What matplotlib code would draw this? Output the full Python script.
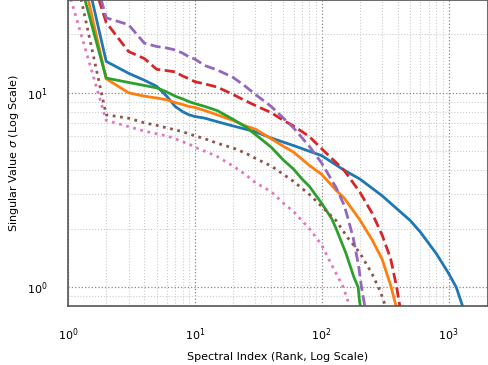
import numpy as np
import matplotlib
matplotlib.use("Agg")
import matplotlib.pyplot as plt

# spectral index (rank) and singular values
k_blue = [1, 2, 3, 4, 5, 6, 7, 8, 9, 10, 12, 15, 20, 25, 30, 40, 60, 80, 100,
          150, 200, 300, 400, 500, 600, 800, 1000, 1150, 1290, 1350]
s_blue = [104, 14.5, 12.6, 11.6, 10.8, 9.6, 8.5, 8.0, 7.7, 7.55, 7.4, 7.1, 6.75, 6.5, 6.3,
          5.85, 5.35, 5.0, 4.75, 4.0, 3.6, 2.95, 2.5, 2.2, 1.92, 1.49, 1.18, 1.0, 0.8, 0.72]

k_orange = [1, 2, 3, 4, 5, 6, 7, 8, 9, 10, 12, 15, 20, 25, 30, 40, 50, 60, 80, 100,
            130, 150, 200, 250, 300, 350, 380, 400]
s_orange = [87, 11.8, 10.0, 9.6, 9.4, 9.2, 8.9, 8.7, 8.5, 8.4, 8.1, 7.7, 7.2, 6.75, 6.5,
            5.8, 5.3, 4.95, 4.23, 3.8, 3.15, 2.88, 2.22, 1.75, 1.39, 1.02, 0.83, 0.74]

k_green = [1, 2, 3, 4, 5, 6, 7, 8, 9, 10, 12, 15, 20, 25, 30, 40, 50, 60, 70, 80,
           100, 120, 130, 155, 180, 194, 199, 210]
s_green = [63, 11.9, 11.3, 10.9, 10.6, 10.1, 9.6, 9.3, 9.0, 8.8, 8.5, 8.1, 7.3, 6.7, 6.1,
           5.25, 4.5, 4.05, 3.6, 3.3, 2.7, 2.25, 2.0, 1.5, 1.12, 1.0, 0.84, 0.7]

k_red = [1, 2, 3, 4, 5, 6, 7, 8, 9, 10, 12, 15, 20, 25, 30, 40, 50, 60, 80, 100,
         150, 200, 250, 300, 350, 390, 412, 440]
s_red = [95, 23, 16.3, 15.0, 13.2, 13.0, 12.8, 12.2, 11.8, 11.4, 11.1, 10.7, 9.8, 9.1, 8.6,
         7.9, 7.2, 6.75, 5.95, 5.15, 4.0, 3.08, 2.4, 1.85, 1.4, 1.0, 0.81, 0.7]

k_purple = [1, 2, 3, 4, 5, 6, 7, 8, 9, 10, 12, 15, 20, 25, 30, 40, 50, 60, 80, 100,
            130, 150, 160, 177, 195, 206, 218, 228]
s_purple = [127, 24.3, 22.4, 18.0, 17.3, 17.0, 16.6, 16.0, 15.3, 14.9, 13.8, 13.1, 12.0,
            10.8, 9.8, 8.5, 7.4, 6.6, 5.3, 4.35, 3.25, 2.65, 2.3, 1.8, 1.3, 1.0, 0.81, 0.7]

k_brown = [1, 2, 3, 4, 5, 6, 7, 8, 9, 10, 12, 15, 20, 25, 30, 40, 50, 60, 80, 100,
           130, 160, 200, 250, 290, 312, 330]
s_brown = [62, 7.7, 7.4, 7.0, 6.8, 6.6, 6.45, 6.3, 6.15, 6.0, 5.8, 5.5, 5.2, 4.9, 4.6,
           4.2, 3.8, 3.5, 3.0, 2.6, 2.2, 1.8, 1.5, 1.17, 0.95, 0.83, 0.75]

k_pink = [1, 2, 3, 4, 5, 6, 7, 8, 9, 10, 12, 15, 20, 25, 30, 40, 50, 60, 80, 100,
          120, 148, 165, 175]
s_pink = [34, 7.2, 6.7, 6.35, 6.15, 6.0, 5.8, 5.6, 5.45, 5.25, 5.0, 4.7, 4.2, 3.8, 3.45,
          3.1, 2.7, 2.45, 2.0, 1.65, 1.3, 1.0, 0.81, 0.7]

fig = plt.figure(figsize=(4.89, 3.65), dpi=100)
ax = fig.add_axes([68 / 489, 59 / 365, 420 / 489, 306 / 365])

ax.plot(k_blue, s_blue, color="tab:blue", lw=2)
ax.plot(k_orange, s_orange, color="tab:orange", lw=2)
ax.plot(k_green, s_green, color="tab:green", lw=2)
ax.plot(k_red, s_red, color="tab:red", lw=2, ls="--")
ax.plot(k_purple, s_purple, color="tab:purple", lw=2, ls="--")
ax.plot(k_brown, s_brown, color="tab:brown", lw=2, ls=":")
ax.plot(k_pink, s_pink, color="tab:pink", lw=2, ls=":")

ax.set_xscale("log")
ax.set_yscale("log")
ax.set_xlim(1, 2048)
ax.set_ylim(0.8, 30)

ax.grid(True, which="major", ls=":", color="#888888", lw=0.9)
ax.grid(True, which="minor", ls=":", color="#cccccc", lw=0.8)
ax.set_axisbelow(True)

for sp in ax.spines.values():
    sp.set_color("#555555")
    sp.set_linewidth(1.2)

ax.tick_params(which="both", length=0, labelsize=8, pad=15)
ax.yaxis.set_minor_formatter(matplotlib.ticker.NullFormatter())

ax.set_xlabel("Spectral Index (Rank, Log Scale)", fontsize=8, labelpad=6)
ax.set_ylabel("Singular Value $\\sigma$ (Log Scale)", fontsize=8, labelpad=4)

fig.savefig("out.png", dpi=100)
